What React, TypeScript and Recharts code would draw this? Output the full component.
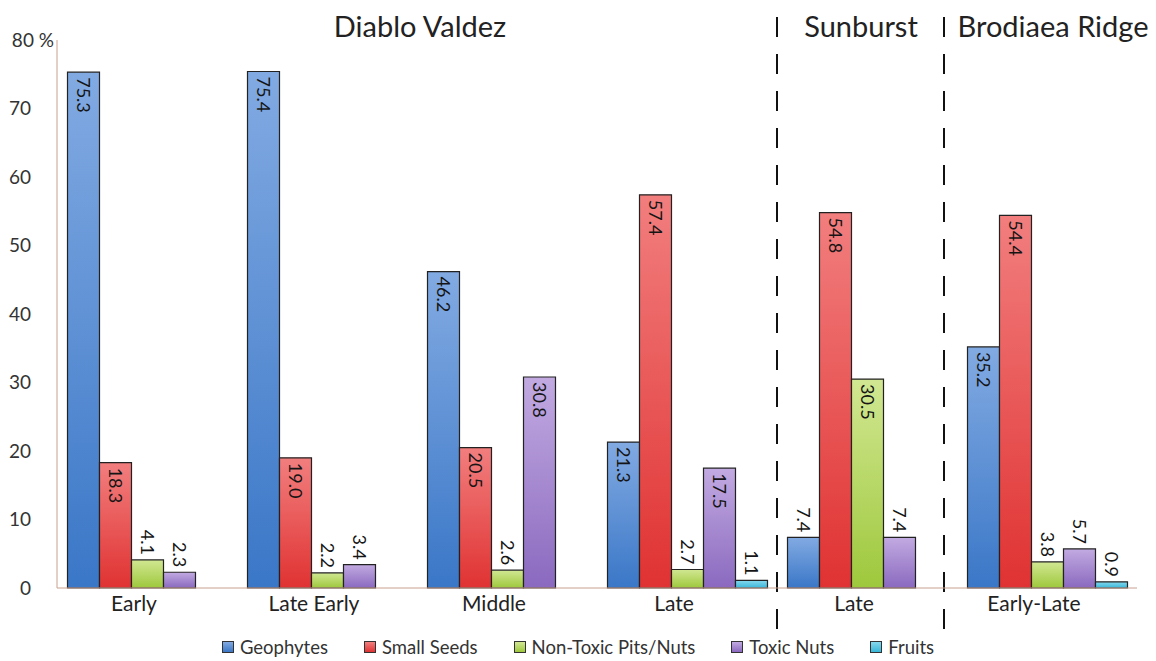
import React from 'react';
import { BarChart, Bar, XAxis, YAxis, ReferenceLine, LabelList, Legend } from 'recharts';

// categories: period under each site
const periods = ['Early', 'Late Early', 'Middle', 'Late', 'Late', 'Early-Late'];
const sites = ['Diablo Valdez', 'Diablo Valdez', 'Diablo Valdez', 'Diablo Valdez', 'Sunburst', 'Brodiaea Ridge'];

// percentages per series
const geophytes = [75.3, 75.4, 46.2, 21.3, 7.4, 35.2];
const smallSeeds = [18.3, 19.0, 20.5, 57.4, 54.8, 54.4];
const nonToxicPitsNuts = [4.1, 2.2, 2.6, 2.7, 30.5, 3.8];
const toxicNuts = [2.3, 3.4, 30.8, 17.5, 7.4, 5.7];
const fruits = [null, null, null, 1.1, null, 0.9];

const yTicks = [0, 10, 20, 30, 40, 50, 60, 70, 80];

// site headers
const siteTitles = ['Diablo Valdez', 'Sunburst', 'Brodiaea Ridge'];
const titleCenters = [420, 861, 1053];

const series = [
  { key: 'geophytes', name: 'Geophytes', top: '#82aae2', bottom: '#3a77c7' },
  { key: 'smallSeeds', name: 'Small Seeds', top: '#f27e7e', bottom: '#e03232' },
  { key: 'nonToxic', name: 'Non-Toxic Pits/Nuts', top: '#d1e792', bottom: '#9ec83c' },
  { key: 'toxicNuts', name: 'Toxic Nuts', top: '#c2aae1', bottom: '#8a69bf' },
  { key: 'fruits', name: 'Fruits', top: '#86d8ee', bottom: '#38b6d8' },
];

const keyOf = (i: number) => `${sites[i]}|${periods[i]}`;

const data = periods.map((p, i) => ({
  key: keyOf(i),
  geophytes: geophytes[i],
  smallSeeds: smallSeeds[i],
  nonToxic: nonToxicPitsNuts[i],
  toxicNuts: toxicNuts[i],
  fruits: fruits[i],
}));

// dashed dividers at the start of the Sunburst band and just before Brodiaea Ridge
const dividers = [
  { key: keyOf(4), shift: 0 },
  { key: keyOf(5), shift: -13 },
];

const FONT = 'Lato, "Open Sans", sans-serif';
const AXIS = '#c9a08e';

// value label, rotated; inside the bar top when tall enough, above it otherwise
const ValueLabel = (props: any) => {
  const { value } = props;
  if (value == null) return null;
  const x = Number(props.x);
  const y = Number(props.y);
  const w = Number(props.width);
  const cx = x + w / 2;
  const inside = value >= 10;
  const ty = inside ? y + 5 : y - 5;
  return (
    <text
      x={cx}
      y={ty}
      transform={`rotate(90 ${cx} ${ty})`}
      textAnchor={inside ? 'start' : 'end'}
      dominantBaseline="central"
      fontSize={18}
      fill="#151515"
      fontFamily={FONT}
    >
      {Number(value).toFixed(1)}
    </text>
  );
};

const YTick = (props: any) => {
  const { x, y, payload } = props;
  const is80 = payload.value === 80;
  return (
    <text x={x - 18 + (is80 ? 23 : 0)} y={y} dy="0.35em" textAnchor="end" fontSize={19} fill="#333" fontFamily={FONT}>
      {is80 ? '80 %' : payload.value}
    </text>
  );
};

const XTick = (props: any) => {
  const { x, y, index } = props;
  return (
    <text x={x - 13} y={y} dy="0.71em" textAnchor="middle" fontSize={21} fill="#222" fontFamily={FONT}>
      {periods[index]}
    </text>
  );
};

const DividerLine = (props: any) => (
  <line
    x1={props.x1 + props.shift}
    x2={props.x2 + props.shift}
    y1={props.y1}
    y2={props.y2}
    stroke="#111"
    strokeWidth={2}
    strokeDasharray="20 17"
  />
);

const LegendContent = () => (
  <div style={{ display: 'flex', justifyContent: 'center', gap: 36, fontFamily: FONT, fontSize: 18.5, color: '#333' }}>
    {series.map((s) => (
      <div key={s.key} style={{ display: 'flex', alignItems: 'center', gap: 6 }}>
        <span
          style={{
            width: 10,
            height: 10,
            border: '1px solid #333',
            background: `linear-gradient(${s.top}, ${s.bottom})`,
            display: 'inline-block',
          }}
        />
        <span>{s.name}</span>
      </div>
    ))}
  </div>
);

export default function App() {
  return (
    <div style={{ position: 'relative', width: 1156, height: 661, background: '#fff', fontFamily: FONT }}>
      <style>{'body{margin:0}'}</style>
      {/* site headers */}
      {siteTitles.map((t, i) => (
        <div
          key={t}
          style={{
            position: 'absolute',
            left: titleCenters[i],
            top: 9,
            transform: 'translateX(-50%)',
            fontSize: 29,
            lineHeight: '34px',
            color: '#222',
            whiteSpace: 'nowrap',
          }}
        >
          {t}
        </div>
      ))}
      <BarChart
        width={1156}
        height={661}
        data={data}
        margin={{ top: 40, right: 19, bottom: 43, left: 0 }}
        barCategoryGap={10.5}
        barGap={0}
      >
        <defs>
          {series.map((s) => (
            <linearGradient key={s.key} id={`grad-${s.key}`} x1="0" y1="0" x2="0" y2="1">
              <stop offset="0%" stopColor={s.top} />
              <stop offset="100%" stopColor={s.bottom} />
            </linearGradient>
          ))}
        </defs>
        <XAxis
          dataKey="key"
          height={30}
          axisLine={{ stroke: AXIS }}
          tickLine={false}
          tick={<XTick />}
          interval={0}
        />
        <YAxis
          width={57}
          domain={[0, 80]}
          ticks={yTicks}
          axisLine={{ stroke: AXIS }}
          tickLine={false}
          tick={<YTick />}
          interval={0}
        />
        <Legend verticalAlign="middle" wrapperStyle={{ top: 636, left: 0, width: 1156 }} content={<LegendContent />} />
        {series.map((s) => (
          <Bar
            key={s.key}
            dataKey={s.key}
            name={s.name}
            fill={`url(#grad-${s.key})`}
            stroke="#222"
            strokeWidth={1.2}
            isAnimationActive={false}
          >
            <LabelList dataKey={s.key} content={<ValueLabel />} />
          </Bar>
        ))}
        {dividers.map((d) => (
          <ReferenceLine
            key={d.key}
            segment={[{ x: d.key, y: -6 }, { x: d.key, y: 86 }]}
            position="start"
            ifOverflow="visible"
            shape={<DividerLine shift={d.shift} />}
          />
        ))}
      </BarChart>
    </div>
  );
}
